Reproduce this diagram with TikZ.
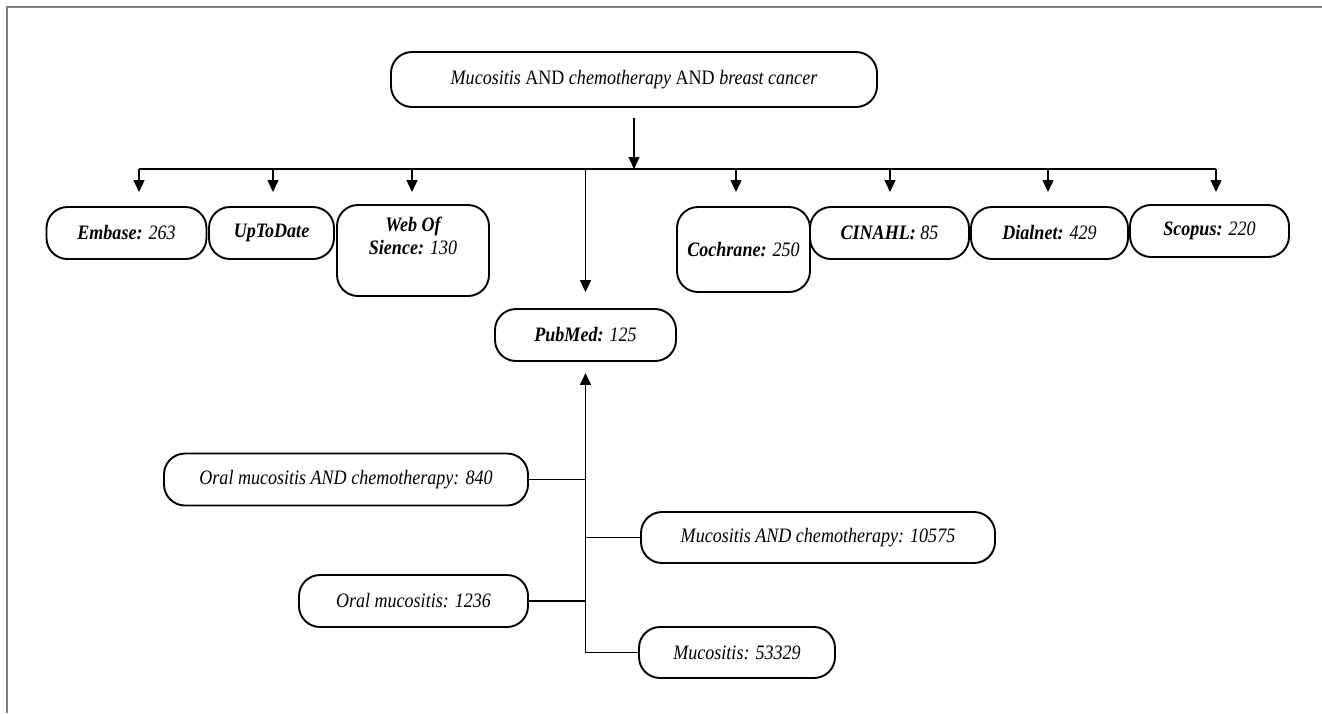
\documentclass[tikz,border=0pt]{standalone}
\usepackage{fontspec}
\setmainfont[FakeStretch=0.88]{Liberation Serif}
\usetikzlibrary{arrows.meta,calc}

\begin{document}
\begin{tikzpicture}[x=1pt,y=-1pt,
  db/.style={draw,line width=1.9pt,rounded corners=21pt,align=center,inner sep=0pt,
    font=\fontsize{20.5}{23}\selectfont\itshape},
  link/.style={line width=1.4pt},
  arr/.style={line width=1.4pt,-{Triangle[length=12pt,width=11pt]}}]
\useasboundingbox (0,0) rectangle (1322,713);
\draw[gray,line width=2pt] (7,713)--(7,7)--(1322,7);
% search string
\node[db,minimum width=486,minimum height=55] (Q) at (634,79.5) {Mucositis \textup{AND} chemotherapy \textup{AND} breast cancer};
% databases
\node[db,minimum width=160,minimum height=52] (E) at (126.5,233) {\textbf{Embase:} 263};
\node[db,minimum width=125,minimum height=52] (U) at (271.5,233) {\textbf{UpToDate}};
\node[db,minimum width=152,minimum height=91] (W) at (413,250.5) {\begin{tabular}{@{}c@{}}\textbf{Web Of}\\\textbf{Sience:} 130\\[24pt]\end{tabular}};
\node[db,minimum width=133,minimum height=85] (C) at (743.5,249.5) {\textbf{Cochrane:} 250};
\node[db,minimum width=159,minimum height=52] (CI) at (889.5,233) {\textbf{CINAHL:} 85};
\node[db,minimum width=157,minimum height=52] (D) at (1049.5,233) {\textbf{Dialnet:} 429};
\node[db,minimum width=159,minimum height=52] (S) at (1209.5,231) {\textbf{Scopus:} 220};
\node[db,minimum width=181,minimum height=52] (P) at (585.5,335) {\textbf{PubMed:} 125};
% PubMed searches
\node[db,minimum width=364,minimum height=52] (OC) at (346,479.5) {Oral mucositis AND chemotherapy: 840};
\node[db,minimum width=354,minimum height=51] (MC) at (818,537.5) {Mucositis AND chemotherapy: 10575};
\node[db,minimum width=229,minimum height=52] (OM) at (413.5,601) {Oral mucositis: 1236};
\node[db,minimum width=196,minimum height=51] (M) at (737,652.5) {Mucositis: 53329};
% top arrows
\coordinate (B) at (634,169);
\foreach \x [count=\k] in {139,273,412,736,890,1048,1216}{\coordinate (T\k) at (\x,192);}
\draw[link] (T1 |- B) -- (T7 |- B);
\foreach \k in {1,...,7}{\draw[arr] (T\k |- B) -- (T\k);}
\draw[arr,shorten <=10pt] (Q.south) -- (B);
\draw[arr,shorten >=16pt] (P.north |- B) -- (P.north);
% bottom tree
\draw[arr,shorten >=11pt] (P.south |- M.west) -- (P.south);
\foreach \n/\s in {OC/east,OM/east,MC/west,M/west}{\draw[link] (\n.\s) -- (\n.\s -| P.south);}
\end{tikzpicture}
\end{document}
